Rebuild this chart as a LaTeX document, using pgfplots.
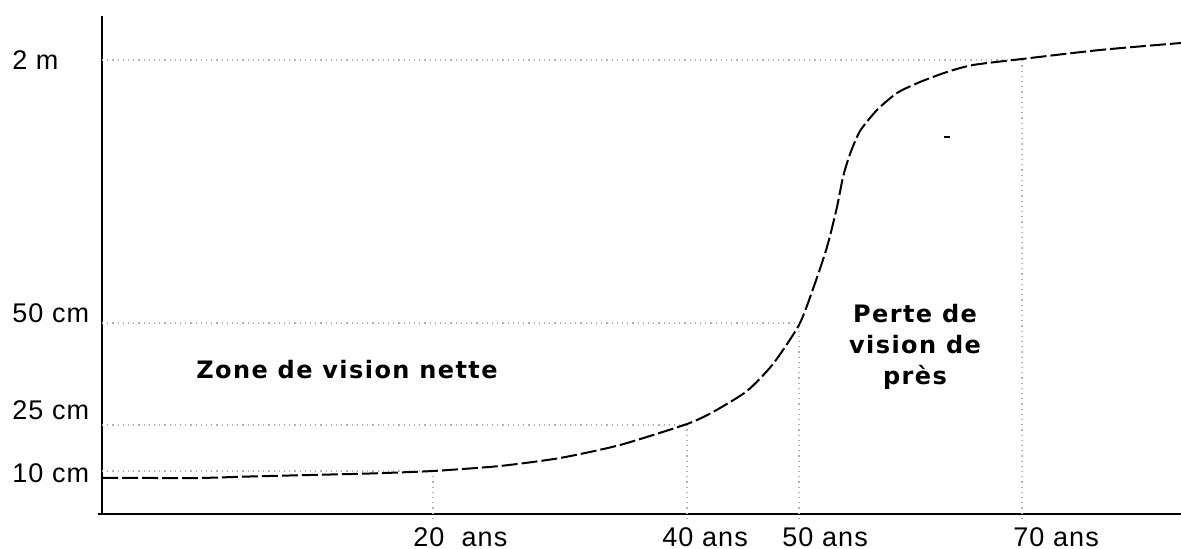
\documentclass[border=0pt]{standalone}
\usepackage{pgfplots}
\pgfplotsset{compat=1.18}
\usepackage{fontspec}
\setmainfont{Liberation Sans}
\newfontfamily\dvs{DejaVu Sans}
\begin{document}
\begin{tikzpicture}
\begin{axis}[
  x=0.5pt, y=0.5pt,
  xmin=102, xmax=1181, ymin=35, ymax=533,
  axis lines=left,
  axis line style={-, line width=1.2pt, black},
  xtick=\empty, ytick=\empty,
  clip=false,
  scale only axis,
]
% grid guides (dotted gray)
\addplot[gray!60, dotted, line width=0.6pt] coordinates {(102,489) (1022,489)};
\addplot[gray!60, dotted, line width=0.6pt] coordinates {(102,226) (799,226)};
\addplot[gray!60, dotted, line width=0.6pt] coordinates {(102,124) (687,124)};
\addplot[gray!60, dotted, line width=0.6pt] coordinates {(102,78) (433,78)};
\addplot[gray!60, dotted, line width=0.6pt] coordinates {(433,30) (433,78)};
\addplot[gray!60, dotted, line width=0.6pt] coordinates {(687,30) (687,124)};
\addplot[gray!60, dotted, line width=0.6pt] coordinates {(799,30) (799,226)};
\addplot[gray!60, dotted, line width=0.6pt] coordinates {(1022,30) (1022,489)};
% x axis extends slightly left of y axis
\addplot[black, line width=1.2pt] coordinates {(98,35) (102,35)};
% curve
\addplot[black, line width=1pt, dash pattern=on 8pt off 2pt, smooth, tension=0.4] coordinates {
(102,71) (150,71) (200,71) (250,72.5) (310,74) (370,75.5) (433,78)
(500,83) (560,91) (620,104) (687,125) (713,137) (747,158) (773,185)
(799,224) (813,260) (827,302) (837,342) (843,372) (850,395) (860,418)
(877,439) (897,456) (920,467) (947,477) (973,484) (1022,490) (1100,499) (1181,506)
};
\draw[line width=1pt] (axis cs:944,412) -- (axis cs:950,412);
% y and x labels
\begin{scope}[every node/.style={anchor=west, inner sep=0pt, font=\fontsize{13.5}{15}\selectfont\addfontfeature{LetterSpace=4}}]
\node at (axis cs:12,489) {2 m};
\node at (axis cs:12,236) {50 cm};
\node at (axis cs:12,139) {25 cm};
\node at (axis cs:12,76) {10 cm};
\node at (axis cs:413,12) {20~~ans};
\node at (axis cs:662,12) {40 ans};
\node at (axis cs:782,12) {50 ans};
\node at (axis cs:1013,12) {70 ans};
\end{scope}
\node[font=\dvs\bfseries\fontsize{12}{15.5}\selectfont\addfontfeature{LetterSpace=6}] at (axis cs:347,179) {Zone de vision nette};
\node[align=center, font=\dvs\bfseries\fontsize{12}{15.5}\selectfont\addfontfeature{LetterSpace=6}] at (axis cs:915,202) {Perte de\\vision de\\près};
\coordinate (bl) at (axis cs:0,0);
\coordinate (tr) at (axis cs:1181,549);
\end{axis}
\pgfresetboundingbox
\path (bl) rectangle (tr);
\end{tikzpicture}
\end{document}
